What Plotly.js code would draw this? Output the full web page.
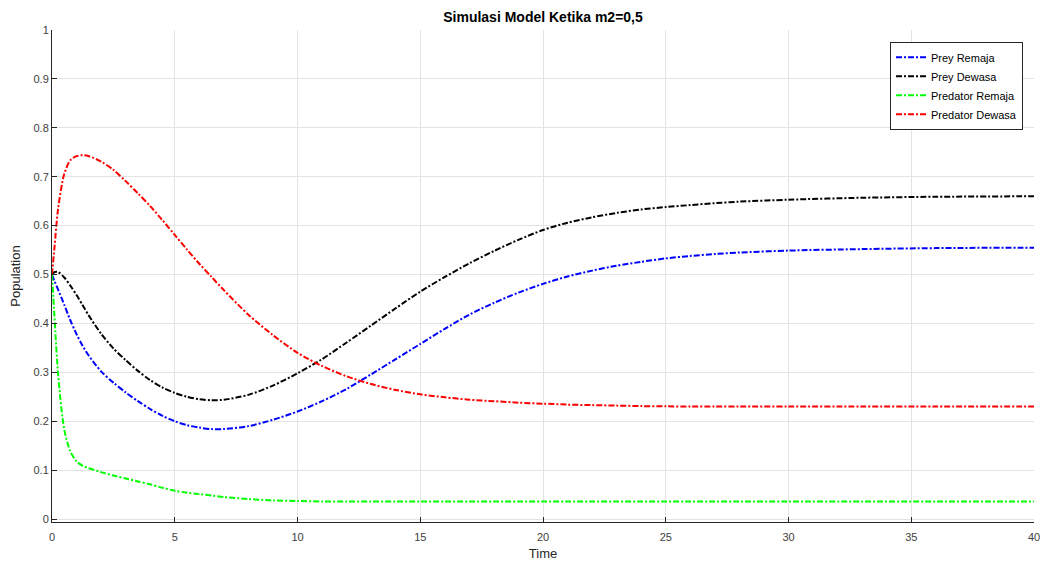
<!DOCTYPE html>
<html>
<head>
<meta charset="utf-8">
<script src="https://cdn.plot.ly/plotly-3.0.1.min.js"></script>
<style>html,body{margin:0;padding:0;background:#fff;}#chart{width:1043px;height:562px;}</style>
</head>
<body>
<div id="chart"></div>
<script>
// Time points (shared)
const time = [0,0.1,0.25,0.5,0.75,1,1.25,1.5,2,2.5,3,3.5,4,4.5,5,5.5,6,6.5,7,8,9,10,11,12,13,14,15,16,17,18,19,20,21,22,23,24,25,26,27,28,30,33,36,40];

// Series values
const preyRemaja = [0.5,0.487,0.469,0.438,0.406,0.378,0.354,0.334,0.302,0.279,0.259,0.241,0.225,0.211,0.2,0.192,0.187,0.184,0.184,0.19,0.203,0.22,0.241,0.266,0.296,0.327,0.358,0.389,0.418,0.442,0.463,0.481,0.496,0.508,0.518,0.526,0.533,0.538,0.542,0.545,0.549,0.552,0.554,0.555];
const preyDewasa = [0.5,0.505,0.505,0.494,0.477,0.458,0.437,0.416,0.379,0.349,0.325,0.303,0.284,0.269,0.258,0.25,0.245,0.243,0.244,0.254,0.273,0.298,0.327,0.361,0.396,0.431,0.465,0.495,0.523,0.548,0.571,0.591,0.606,0.617,0.626,0.633,0.638,0.642,0.646,0.649,0.653,0.657,0.659,0.66];
const predatorRemaja = [0.5,0.414,0.295,0.183,0.138,0.118,0.109,0.104,0.096,0.089,0.083,0.077,0.071,0.064,0.058,0.054,0.051,0.048,0.045,0.041,0.038,0.037,0.036,0.036,0.036,0.036,0.036,0.036,0.036,0.036,0.036,0.036,0.036,0.036,0.036,0.036,0.036,0.036,0.036,0.036,0.036,0.036,0.036,0.036];
const predatorDewasa = [0.5,0.555,0.635,0.706,0.734,0.742,0.744,0.742,0.731,0.714,0.691,0.666,0.64,0.611,0.581,0.551,0.522,0.495,0.468,0.418,0.376,0.34,0.313,0.292,0.276,0.264,0.255,0.249,0.244,0.241,0.238,0.236,0.234,0.233,0.232,0.231,0.2305,0.230,0.230,0.230,0.230,0.230,0.230,0.230];

const seriesNames = ['Prey Remaja','Prey Dewasa','Predator Remaja','Predator Dewasa'];
const seriesColors = ['#0000ff','#000000','#00ff00','#ff0000'];
const seriesValues = [preyRemaja, preyDewasa, predatorRemaja, predatorDewasa];

const xTicks = [0,5,10,15,20,25,30,35,40];
const yTicks = [0,0.1,0.2,0.3,0.4,0.5,0.6,0.7,0.8,0.9,1];

const traces = seriesValues.map((v,i)=>({
  x: time, y: v, type:'scatter', mode:'lines', name: seriesNames[i],
  line:{color: seriesColors[i], width:2, dash:'6px,2px,2px,2px', shape:'spline', smoothing:0.8}
}));

const font = 'Liberation Sans, Arial, Helvetica, sans-serif';
const layout = {
  width:1043, height:562,
  margin:{l:52, r:9, t:30, b:40},
  paper_bgcolor:'#fff', plot_bgcolor:'#fff',
  font:{family:font, size:11, color:'#404040'},
  title:{text:'<b>Simulasi Model Ketika m2=0,5</b>', font:{family:font, size:14, color:'#000'},
    xref:'paper', x:0.5, xanchor:'center', yref:'container', y:1-17/562, yanchor:'middle'},
  xaxis:{range:[0,40], tickvals:xTicks, ticktext:xTicks.map(String),
    showgrid:true, gridcolor:'#e3e3e3', gridwidth:1, zeroline:false,
    showline:true, linecolor:'#262626', linewidth:1, mirror:false,
    ticks:'inside', ticklen:5, tickcolor:'#262626', tickwidth:1, ticklabelstandoff:5,
    tickfont:{family:font, size:11, color:'#404040'},
    title:{text:'Time', font:{family:font, size:13, color:'#262626'}, standoff:6}},
  yaxis:{range:[-0.006,1], tickvals:yTicks, ticktext:yTicks.map(String),
    showgrid:true, gridcolor:'#e3e3e3', gridwidth:1, zeroline:false,
    showline:true, linecolor:'#262626', linewidth:1, mirror:false,
    ticks:'inside', ticklen:5, tickcolor:'#262626', tickwidth:1,
    tickfont:{family:font, size:11, color:'#404040'},
    title:{text:'Population', font:{family:font, size:13, color:'#262626'}, standoff:9}},
  legend:{x:0.9888, xanchor:'right', y:0.976, yanchor:'top',
    bgcolor:'#fff', bordercolor:'#262626', borderwidth:1,
    font:{family:font, size:11, color:'#000'}, itemwidth:30, tracegroupgap:0},
  showlegend:true
};

Plotly.newPlot('chart', traces, layout, {displayModeBar:false, staticPlot:true});
</script>
</body>
</html>
